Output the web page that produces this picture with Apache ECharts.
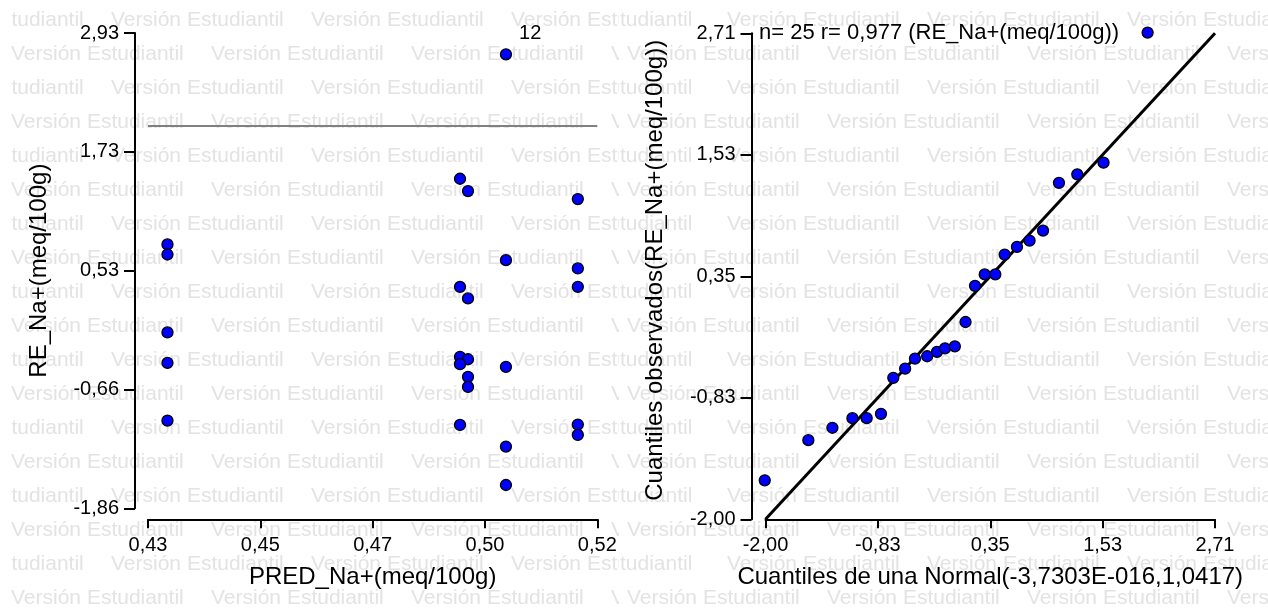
<!DOCTYPE html>
<html>
<head>
<meta charset="utf-8">
<script src="https://cdn.jsdelivr.net/npm/echarts@6/dist/echarts.min.js"></script>
<style>
  html, body { margin: 0; padding: 0; background: #fff; }
  #chart { width: 1268px; height: 608px; }
</style>
</head>
<body>
<div id="chart"></div>
<script>
// residuos vs predichos (panel izquierdo)
var predichos = [0.4992, 0.4900, 0.4916, 0.5136, 0.4314, 0.4314, 0.4992, 0.5136, 0.4900, 0.5136,
                 0.4916, 0.4314, 0.4314, 0.4900, 0.4916, 0.4900, 0.4992, 0.4916, 0.4916, 0.4314,
                 0.4900, 0.5136, 0.5136, 0.4992, 0.4992];
var residuos = [2.715, 1.461, 1.337, 1.256, 0.799, 0.698, 0.641, 0.557, 0.372, 0.372,
                0.255, -0.088, -0.395, -0.334, -0.358, -0.408, -0.435, -0.536, -0.637, -0.976,
                -1.020, -1.016, -1.121, -1.238, -1.625];
var idxAtipico = 0;
var etiquetaAtipico = "12";
var limiteResiduo = 2;

// QQ plot (panel derecho)
var cuantilesNormal = [-2.008, -1.551, -1.299, -1.089, -0.940, -0.790, -0.661, -0.537, -0.434, -0.306,
                       -0.203, -0.119, -0.016, 0.096, 0.195, 0.297, 0.408, 0.506, 0.635, 0.767,
                       0.908, 1.075, 1.267, 1.542, 2.004];
var cuantilesObs = [-1.622, -1.233, -1.113, -1.020, -1.020, -0.978, -0.629, -0.540, -0.443, -0.420,
                    -0.378, -0.343, -0.324, -0.088, 0.263, 0.373, 0.373, 0.566, 0.640, 0.701,
                    0.798, 1.261, 1.343, 1.456, 2.717];
var rTexto = "0,977";

// ticks
var xTicksIzq = [0.4275, 0.45, 0.4725, 0.495, 0.5175];
var xLabelsIzq = ["0,43", "0,45", "0,47", "0,50", "0,52"];
var yTicksIzq = [-1.86, -0.6625, 0.535, 1.7325, 2.93];
var yLabelsIzq = ["-1,86", "-0,66", "0,53", "1,73", "2,93"];
var ticksQQ = [-2.00, -0.8225, 0.355, 1.5325, 2.71];
var labelsQQ = ["-2,00", "-0,83", "0,35", "1,53", "2,71"];

var FUENTE = "'Liberation Sans', Arial, sans-serif";

function masCercano(ticks, v) {
  var best = 0;
  for (var i = 1; i < ticks.length; i++) {
    if (Math.abs(ticks[i] - v) < Math.abs(ticks[best] - v)) best = i;
  }
  return best;
}

function eje(ticks, labels, largoTick, extra) {
  var base = {
    type: "value",
    min: ticks[0],
    max: ticks[ticks.length - 1],
    axisLine: { show: true, onZero: false, lineStyle: { color: "#000", width: 2 } },
    axisTick: { show: true, customValues: ticks, length: largoTick, lineStyle: { color: "#000", width: 2 } },
    axisLabel: {
      customValues: ticks, color: "#000", fontSize: 20, fontFamily: FUENTE, margin: 16,
      formatter: function (v) { return labels[masCercano(ticks, v)]; }
    },
    splitLine: { show: false },
    nameLocation: "middle",
    nameTextStyle: { color: "#000", fontSize: 24, fontFamily: FUENTE }
  };
  return Object.assign(base, extra);
}

// marca de agua "Versión Estudiantil" (dos bloques, uno por panel)
var marca = "Versión Estudiantil";
var elementos = [];
function textoMarca(x, y, t, z) {
  elementos.push({
    type: "text", x: x, y: y, z: z, silent: true,
    style: { text: t, fill: "#e3e3e3", font: "21px " + FUENTE, verticalAlign: "middle" }
  });
}
for (var j = 0; j < 18; j++) {
  var y = 20 + 34 * j;
  var ini = (j % 2 === 0) ? 111 : 11;
  for (var x = ini - 200; x < 619; x += 200) textoMarca(x, y, marca, -3);
  if (j % 2 === 0) {
    textoMarca(620, y, "tudiantil", -1);
    for (var x2 = 727; x2 < 1268; x2 += 200) textoMarca(x2, y, marca, -1);
  } else {
    for (var x3 = 627; x3 < 1268; x3 += 200) textoMarca(x3, y, marca, -1);
  }
}
elementos.push({
  type: "rect", z: -2, silent: true,
  shape: { x: 619, y: 0, width: 649, height: 608 },
  style: { fill: "#fff" }
});
elementos.push({
  type: "rect", z: -2, silent: true,
  shape: { x: 0, y: 0, width: 11, height: 608 },
  style: { fill: "#fff" }
});

var datosIzq = predichos.map(function (p, i) {
  var d = { value: [p, residuos[i]] };
  if (i === idxAtipico) {
    d.label = {
      show: true, formatter: etiquetaAtipico, position: "right", distance: 5, offset: [2, -21],
      color: "#000", fontSize: 20, fontFamily: FUENTE
    };
  }
  return d;
});
var datosQQ = cuantilesNormal.map(function (q, i) { return [q, cuantilesObs[i]]; });

var punto = { color: "#0000ff", borderColor: "#000", borderWidth: 1.3, opacity: 1 };

var option = {
  backgroundColor: "#fff",
  animation: false,
  graphic: { elements: elementos },
  title: {
    text: "n= " + cuantilesObs.length + " r= " + rTexto + " (RE_Na+(meq/100g))",
    left: 759, top: 22, padding: 0,
    textStyle: { color: "#000", fontSize: 22, fontWeight: "normal", fontFamily: FUENTE }
  },
  grid: [
    { left: 148, top: 33, width: 449.3, height: 475.3, outerBoundsMode: "none" },
    { left: 765.5, top: 33.3, width: 449.5, height: 486, outerBoundsMode: "none" }
  ],
  xAxis: [
    eje(xTicksIzq, xLabelsIzq, 9, { gridIndex: 0, offset: 11, name: "PRED_Na+(meq/100g)", nameGap: 46 }),
    eje(ticksQQ, labelsQQ, 9, { gridIndex: 1, name: "Cuantiles de una Normal(-3,7303E-016,1,0417)", nameGap: 46 })
  ],
  yAxis: [
    eje(yTicksIzq, yLabelsIzq, 11, { gridIndex: 0, offset: 13, name: "RE_Na+(meq/100g)", nameGap: 84 }),
    eje(ticksQQ, labelsQQ, 11, {
      gridIndex: 1, offset: 14, name: "Cuantiles observados(RE_Na+(meq/100g))", nameGap: 84,
      nameTextStyle: { color: "#000", fontSize: 24, fontFamily: FUENTE, padding: [0, 0, 0, 12] }
    })
  ],
  series: [
    {
      type: "scatter", xAxisIndex: 0, yAxisIndex: 0, z: 3, clip: false,
      symbolSize: 11, itemStyle: punto, data: datosIzq,
      emphasis: { disabled: true },
      markLine: {
        silent: true, symbol: "none", label: { show: false },
        lineStyle: { color: "#808080", width: 2, type: "solid", opacity: 1 },
        data: [{ yAxis: limiteResiduo }]
      }
    },
    {
      type: "line", xAxisIndex: 1, yAxisIndex: 1, z: 2, symbol: "none",
      lineStyle: { color: "#000", width: 3 },
      data: [[ticksQQ[0], ticksQQ[0]], [ticksQQ[ticksQQ.length - 1], ticksQQ[ticksQQ.length - 1]]]
    },
    {
      type: "scatter", xAxisIndex: 1, yAxisIndex: 1, z: 3, clip: false,
      symbolSize: 11, itemStyle: punto, data: datosQQ,
      emphasis: { disabled: true }
    }
  ]
};

var grafico = echarts.init(document.getElementById("chart"));
grafico.setOption(option);
</script>
</body>
</html>
